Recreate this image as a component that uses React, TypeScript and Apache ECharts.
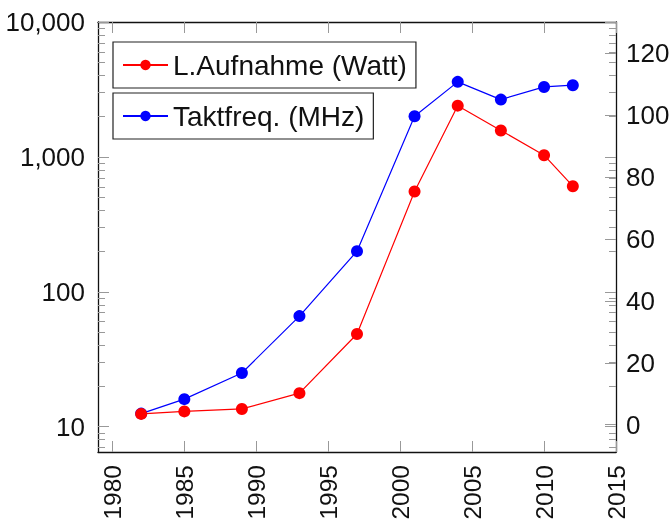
import React, { useEffect, useRef } from 'react';
import * as echarts from 'echarts';

const years = [1982, 1985, 1989, 1993, 1997, 2001, 2004, 2007, 2010, 2012];
const powerWatt = [3.5, 4.3, 5.1, 10.2, 29.3, 75.3, 103, 95, 87, 77];
const clockMHz = [12.5, 16, 25, 66, 200, 2000, 3600, 2660, 3300, 3400];
const seriesNames = ['L.Aufnahme (Watt)', 'Taktfreq. (MHz)'];
const xTicks = [1980, 1985, 1990, 1995, 2000, 2005, 2010, 2015];
const logMajorTicks = [10, 100, 1000, 10000];
const logMinorTicks = [7, 8, 9, 20, 30, 40, 50, 60, 70, 80, 90, 200, 300, 400, 500, 600, 700, 800, 900, 2000, 3000, 4000, 5000, 6000, 7000, 8000, 9000];
const rightTicks = [0, 20, 40, 60, 80, 100, 120];

const FONT = 'Liberation Sans';
const TICK = '#999';
const FRAME = '#111';

export default function App() {
  const ref = useRef<HTMLDivElement>(null);
  useEffect(() => {
    const chart = echarts.init(ref.current!, null, { renderer: 'svg' });
    const frameLine = { show: true, onZero: false, lineStyle: { color: FRAME, width: 1.3 } };
    const label = { fontSize: 26, fontFamily: FONT, color: '#111' };
    const xBase = (pos: string, showLabel: boolean) => ({
      type: 'value', min: 1979, max: 2015, position: pos,
      axisLine: frameLine,
      axisTick: { show: true, inside: true, length: 11, customValues: xTicks, lineStyle: { color: TICK, width: 1 } },
      axisLabel: showLabel ? { ...label, fontSize: 24.5, customValues: xTicks, rotate: 90, margin: 13, formatter: (v: number) => String(v) } : { show: false },
      splitLine: { show: false },
    });
    const logAxis = (pos: string, ticks: number[], len: number, showLabel: boolean, showLine: boolean) => ({
      type: 'log', logBase: 10, min: 6.49, max: 10000, position: pos,
      axisLine: showLine ? frameLine : { show: false, onZero: false },
      axisTick: { show: true, inside: true, length: len, customValues: ticks, lineStyle: { color: TICK, width: 1 } },
      axisLabel: showLabel ? { ...label, customValues: logMajorTicks, margin: 13, formatter: (v: number) => Math.round(v).toLocaleString('en-US') } : { show: false },
      splitLine: { show: false }, minorTick: { show: false },
    });
    const legendBase = {
      orient: 'horizontal', itemWidth: 45, itemHeight: 13, padding: [9, 9, 9, 9],
      borderColor: '#222', borderWidth: 1.2, backgroundColor: '#fff',
      textStyle: { fontSize: 28, fontFamily: FONT, color: '#111' },
    };
    chart.setOption({
      animation: false,
      grid: { left: 98, top: 22, width: 518, height: 430, containLabel: false, outerBoundsMode: 'none' },
      legend: [
        { ...legendBase, data: [seriesNames[0]], left: 113, top: 42 },
        { ...legendBase, data: [seriesNames[1]], left: 113, top: 93 },
      ],
      xAxis: [xBase('bottom', true), xBase('top', false)],
      yAxis: [
        logAxis('left', logMajorTicks, 11, true, true),
        logAxis('left', logMinorTicks, 7, false, false),
        logAxis('right', logMajorTicks, 11, false, true),
        logAxis('right', logMinorTicks, 7, false, false),
        {
          type: 'value', min: -8.8, max: 130, position: 'right',
          axisLine: { show: false, onZero: false },
          axisTick: { show: true, inside: true, length: 11, customValues: rightTicks, lineStyle: { color: TICK, width: 1 } },
          axisLabel: { ...label, customValues: rightTicks, margin: 10 },
          splitLine: { show: false },
        },
      ],
      series: [
        {
          type: 'line', name: seriesNames[1], xAxisIndex: 0, yAxisIndex: 0,
          data: years.map((y, i) => [y, clockMHz[i]]),
          color: '#0000ff', symbol: 'circle', symbolSize: 12, showSymbol: true,
          lineStyle: { width: 1.2, color: '#0000ff' }, itemStyle: { color: '#0000ff' },
        },
        {
          type: 'line', name: seriesNames[0], xAxisIndex: 0, yAxisIndex: 4,
          data: years.map((y, i) => [y, powerWatt[i]]),
          color: '#ff0000', symbol: 'circle', symbolSize: 12, showSymbol: true,
          lineStyle: { width: 1.2, color: '#ff0000' }, itemStyle: { color: '#ff0000' },
        },
      ],
    });
    return () => chart.dispose();
  }, []);
  return <div ref={ref} style={{ position: 'fixed', left: 0, top: 0, width: 671, height: 522 }} />;
}
